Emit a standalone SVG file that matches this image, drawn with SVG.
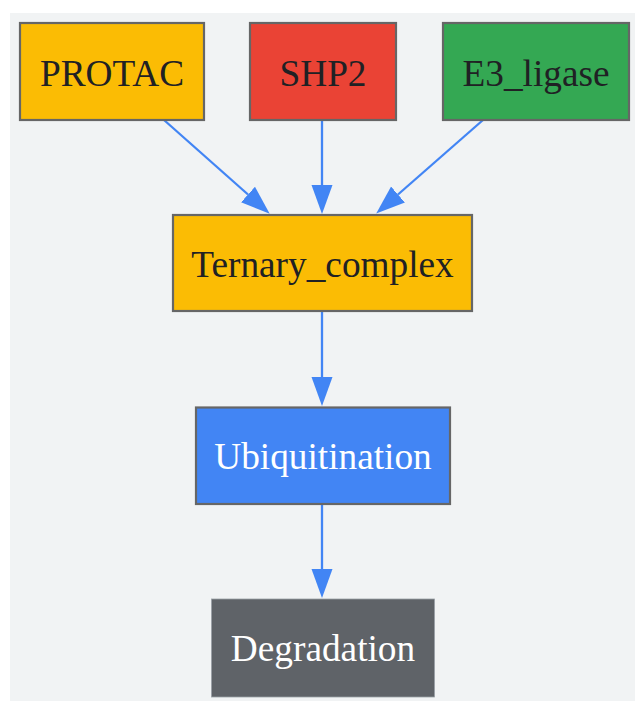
<svg xmlns="http://www.w3.org/2000/svg" width="635" height="701" viewBox="0 0 635 701">
<defs>
<style>
.node rect{stroke:#666666;stroke-width:2.2}
.node text{font-family:"Liberation Serif","Times New Roman",serif;font-size:37.3px;text-anchor:middle}
.dark{fill:#202124}
.light{fill:#ffffff}
.edge{stroke:#4285f4;stroke-width:2.3;fill:none}
</style>
<marker id="ah" markerUnits="userSpaceOnUse" markerWidth="30" markerHeight="22" refX="0" refY="11" orient="auto" viewBox="0 0 30 22">
<path d="M0,0.5 L29,11 L0,21.5 z" fill="#4285f4"/>
</marker>
</defs>
<rect x="10" y="13" width="625" height="688" fill="#f1f3f4"/>
<g id="connectors">
<line class="edge" x1="164" y1="120" x2="248" y2="194.5" marker-end="url(#ah)"/>
<line class="edge" x1="322" y1="120" x2="322" y2="185" marker-end="url(#ah)"/>
<line class="edge" x1="483" y1="120" x2="398" y2="194.5" marker-end="url(#ah)"/>
<line class="edge" x1="322" y1="311" x2="322" y2="377" marker-end="url(#ah)"/>
<line class="edge" x1="322" y1="504" x2="322" y2="569" marker-end="url(#ah)"/>
</g>
<g id="PROTAC" class="node">
<rect x="20" y="23" width="184" height="97" fill="#fbbc04"/>
<text x="112" y="86" class="dark">PROTAC</text>
</g>
<g id="SHP2" class="node">
<rect x="250" y="23" width="146" height="97" fill="#ea4335"/>
<text x="323" y="86" class="dark">SHP2</text>
</g>
<g id="E3_ligase" class="node">
<rect x="443" y="23" width="186" height="97" fill="#34a853"/>
<text x="536" y="86" class="dark">E3_ligase</text>
</g>
<g id="Ternary_complex" class="node">
<rect x="173" y="215" width="299" height="96" fill="#fbbc04"/>
<text x="322.5" y="277" class="dark">Ternary_complex</text>
</g>
<g id="Ubiquitination" class="node">
<rect x="196" y="407.5" width="254" height="96.5" fill="#4285f4"/>
<text x="323" y="469" class="light">Ubiquitination</text>
</g>
<g id="Degradation" class="node">
<rect x="211.5" y="599" width="223" height="98" fill="#5f6368" style="stroke:#9aa0a6;stroke-width:0.8"/>
<text x="323" y="661" class="light">Degradation</text>
</g>
</svg>
